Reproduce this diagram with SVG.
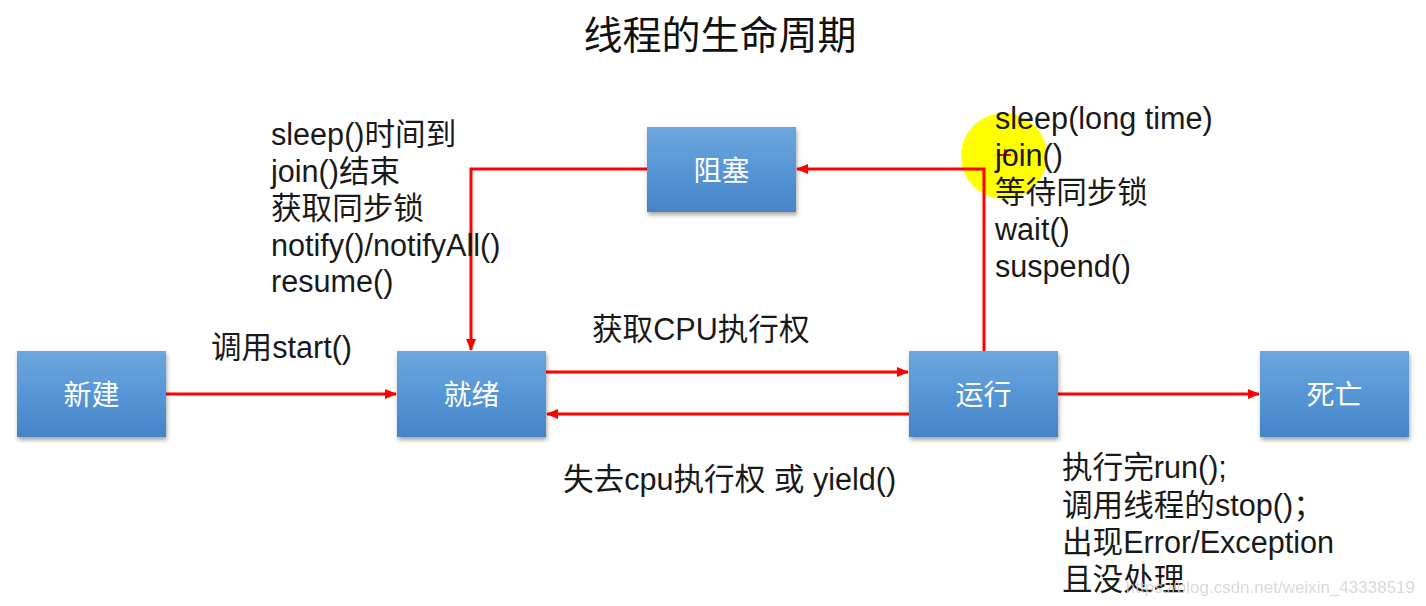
<svg xmlns="http://www.w3.org/2000/svg" width="1426" height="606" viewBox="0 0 1426 606">
<style>
.lbl{font-family:"Liberation Sans","Noto Sans CJK SC",sans-serif;font-size:30.6px;fill:#1a1a1a}
.node text{font-family:"Noto Sans CJK SC","Liberation Sans",sans-serif;font-size:28px;fill:#ffffff;text-anchor:middle;dominant-baseline:central}
.edge{stroke:#ff0000;stroke-width:3;fill:none}
</style>
<defs>
<linearGradient id="g" x1="0" y1="0" x2="0" y2="1">
<stop offset="0" stop-color="#6ea6de"/>
<stop offset="0.5" stop-color="#5696d6"/>
<stop offset="1" stop-color="#4783c6"/>
</linearGradient>
<filter id="sh" x="-10%" y="-10%" width="125%" height="130%">
<feDropShadow dx="1" dy="3" stdDeviation="2" flood-color="#000" flood-opacity="0.35"/>
</filter>
<marker id="ah" viewBox="0 0 12 10" refX="11" refY="5" markerWidth="12" markerHeight="10" markerUnits="userSpaceOnUse" orient="auto">
<path d="M0,0 L12,5 L0,10 Z" fill="#ff0000"/>
</marker>
</defs>
<rect width="1426" height="606" fill="#ffffff"/>
<circle cx="1004" cy="156" r="43" fill="#ffff00"/>
<text x="720" y="49" text-anchor="middle" style="font-family:'Noto Sans CJK SC','Liberation Sans',sans-serif;font-size:39px;fill:#111">线程的生命周期</text>
<g id="connectors">
<path class="edge" d="M166,394 H396" marker-end="url(#ah)"/>
<path class="edge" d="M546,372 H908" marker-end="url(#ah)"/>
<path class="edge" d="M909,414 H547" marker-end="url(#ah)"/>
<path class="edge" d="M1058,394 H1259" marker-end="url(#ah)"/>
<path class="edge" d="M984,351 V169 H797" marker-end="url(#ah)"/>
<path class="edge" d="M647,169 H471 V350" marker-end="url(#ah)"/>
</g>
<path d="M999,155 H1011 M1005,149 V161" stroke="#ff0000" stroke-width="2"/>
<g id="node-new" class="node"><rect x="17" y="351" width="149" height="86" fill="url(#g)" filter="url(#sh)"/><text x="91.5" y="393">新建</text></g>
<g id="node-ready" class="node"><rect x="397" y="351" width="149" height="86" fill="url(#g)" filter="url(#sh)"/><text x="471.5" y="393">就绪</text></g>
<g id="node-running" class="node"><rect x="909" y="351" width="149" height="86" fill="url(#g)" filter="url(#sh)"/><text x="983.5" y="393">运行</text></g>
<g id="node-dead" class="node"><rect x="1260" y="351" width="149" height="86" fill="url(#g)" filter="url(#sh)"/><text x="1334.5" y="393">死亡</text></g>
<g id="node-blocked" class="node"><rect x="647" y="127" width="149" height="85" fill="url(#g)" filter="url(#sh)"/><text x="721.5" y="169">阻塞</text></g>
<g id="labels">
<text class="lbl" x="271" y="145">sleep()时间到</text>
<text class="lbl" x="271" y="182">join()结束</text>
<text class="lbl" x="271" y="219">获取同步锁</text>
<text class="lbl" x="271" y="256">notify()/notifyAll()</text>
<text class="lbl" x="271" y="292">resume()</text>
<text class="lbl" x="995" y="129">sleep(long time)</text>
<text class="lbl" x="995" y="166">join()</text>
<text class="lbl" x="995" y="203">等待同步锁</text>
<text class="lbl" x="995" y="240">wait()</text>
<text class="lbl" x="995" y="277">suspend()</text>
<text class="lbl" x="211" y="358">调用start()</text>
<text class="lbl" x="592" y="340">获取CPU执行权</text>
<text class="lbl" x="563" y="490">失去cpu执行权 或 yield()</text>
<text class="lbl" x="1062" y="478">执行完run();</text>
<text class="lbl" x="1062" y="516">调用线程的stop()；</text>
<text class="lbl" x="1062" y="553">出现Error/Exception</text>
<text class="lbl" x="1062" y="590">且没处理</text>
<text x="1415" y="593" text-anchor="end" style="font-family:'Liberation Sans',sans-serif;font-size:17px;fill:#d0d0d0;opacity:0.8">https://blog.csdn.net/weixin_43338519</text>
</g>
</svg>
